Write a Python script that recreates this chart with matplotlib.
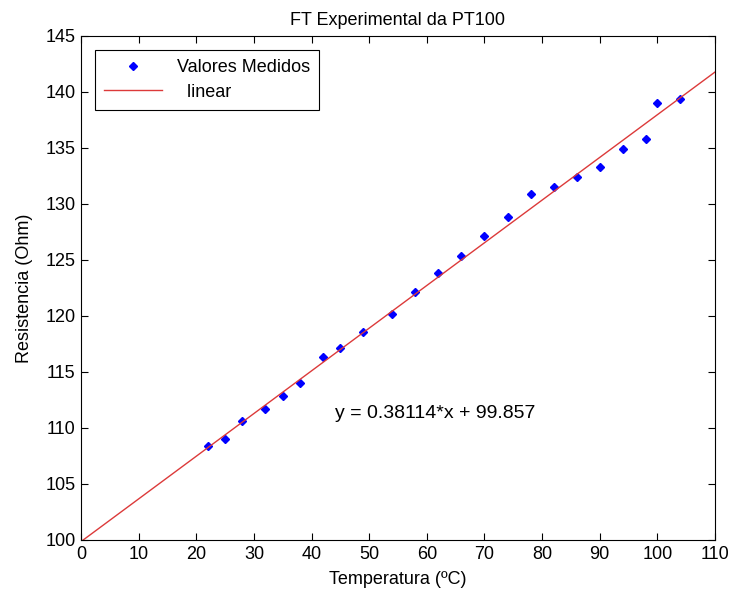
import matplotlib
matplotlib.use("Agg")
import matplotlib.pyplot as plt
import numpy as np
from matplotlib import font_manager

fams = {f.name for f in font_manager.fontManager.ttflist}
fam = "Liberation Sans Narrow" if "Liberation Sans Narrow" in fams else "Liberation Sans"
plt.rcParams['font.family'] = [fam, 'DejaVu Sans']

temperatura = [22, 25, 28, 32, 35, 38, 42, 45, 49, 54, 58, 62, 66, 70, 74, 78, 82, 86, 90, 94, 98, 100, 104]
resistencia = [108.4, 109.0, 110.6, 111.7, 112.9, 114.0, 116.3, 117.1, 118.6, 120.2, 122.1, 123.8,
               125.4, 127.1, 128.8, 130.9, 131.5, 132.4, 133.3, 134.9, 135.8, 139.0, 139.4]
slope = 0.38114
intercept = 99.857
xticks = list(range(0, 111, 10))
yticks = list(range(100, 146, 5))

fig = plt.figure(figsize=(7.32, 5.95), dpi=100)
ax = fig.add_axes([81/732, 1-540/595, (715-81)/732, (540-36)/595])

ax.plot(temperatura, resistencia, linestyle='none', marker='D', markersize=3.6,
        color='#0000ff', label='Valores Medidos')
xf = np.array([0, 110])
ax.plot(xf, slope*xf + intercept, color='#dc3a3a', lw=1.0, label='  linear')

ax.set_xlim(0, 110)
ax.set_ylim(100, 145)
ax.set_xticks(xticks)
ax.set_yticks(yticks)
ax.tick_params(direction='in', top=True, right=True, labelsize=13, length=5, width=0.8, pad=4)
for s in ax.spines.values():
    s.set_linewidth(0.8)

ax.set_title('FT Experimental da PT100', fontsize=13, pad=8)
ax.set_xlabel('Temperatura (ºC)', fontsize=13, labelpad=6)
ax.set_ylabel('Resistencia (Ohm)', fontsize=13, labelpad=9)

ax.text(44.1, 111.3, 'y = 0.38114*x + 99.857', fontsize=14, va='center', ha='left')

leg = ax.legend(loc='upper left', fontsize=13, fancybox=False, edgecolor='black',
                framealpha=1, borderaxespad=0.8, handlelength=3.2, borderpad=0.5,
                labelspacing=0.4)
leg.get_frame().set_linewidth(0.8)

fig.savefig('out.png', dpi=100)
